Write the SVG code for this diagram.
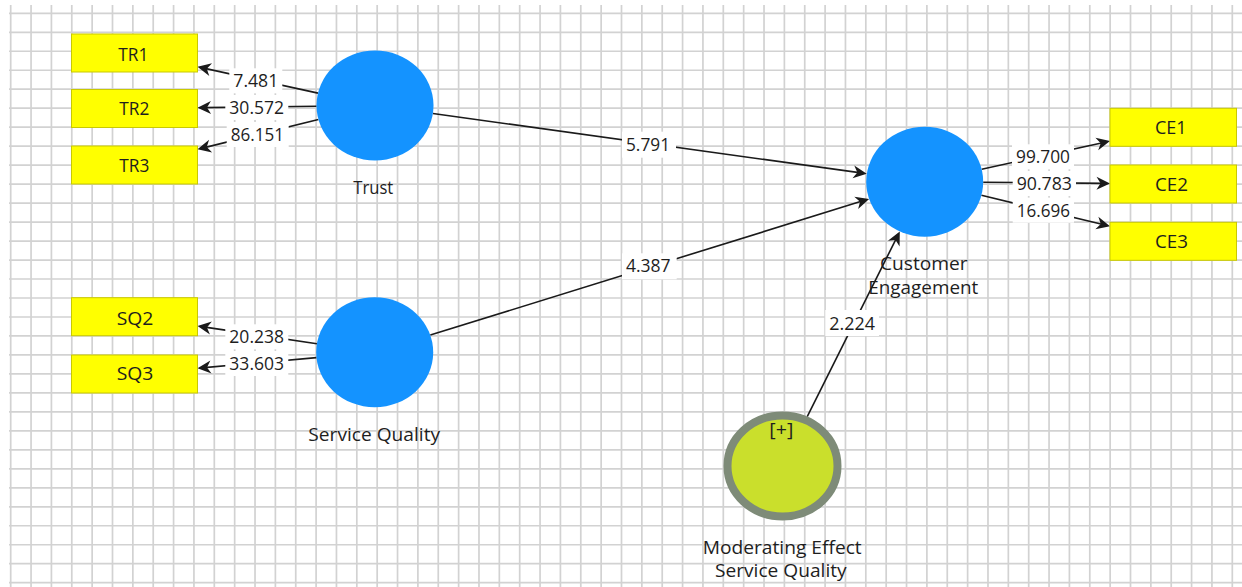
<svg xmlns="http://www.w3.org/2000/svg" width="1242" height="587" viewBox="0 0 1242 587">
<style>
.grid{fill:none;stroke:#d2d2d2;stroke-width:1.7}
.edge{fill:none;stroke:#1a1a1a;stroke-width:1.6;marker-end:url(#arr)}
.lbg{fill:#ffffff}
.t{font-family:"Open Sans","Noto Sans","DejaVu Sans",sans-serif;font-size:19px;fill:#1e1e1e;text-anchor:middle}
.s{font-size:17.5px}
.box{fill:#ffff00;stroke:#c9c900;stroke-width:1}
.lv{fill:#1493ff}
.mod{fill:#cadf2c;stroke:#7e8b78;stroke-width:8}
</style>
<defs>
<marker id="arr" viewBox="-17 -8 18 16" refX="-4" refY="0" markerWidth="18" markerHeight="16" markerUnits="userSpaceOnUse" orient="auto">
<path d="M0,0 L-13.5,-6.5 L-9.5,0 L-13.5,6.5 Z" fill="#1a1a1a"/>
</marker>
</defs>
<rect width="1242" height="587" fill="#ffffff"/>
<g id="grid">
<path class="grid" d="M10.7 5V587M31.06 5V587M51.42 5V587M71.78 5V587M92.14 5V587M112.5 5V587M132.86 5V587M153.22 5V587M173.58 5V587M193.94 5V587M214.3 5V587M234.66 5V587M255.02 5V587M275.38 5V587M295.74 5V587M316.1 5V587M336.46 5V587M356.82 5V587M377.18 5V587M397.54 5V587M417.9 5V587M438.26 5V587M458.62 5V587M478.98 5V587M499.34 5V587M519.7 5V587M540.06 5V587M560.42 5V587M580.78 5V587M601.14 5V587M621.5 5V587M641.86 5V587M662.22 5V587M682.58 5V587M702.94 5V587M723.3 5V587M743.66 5V587M764.02 5V587M784.38 5V587M804.74 5V587M825.1 5V587M845.46 5V587M865.82 5V587M886.18 5V587M906.54 5V587M926.9 5V587M947.26 5V587M967.62 5V587M987.98 5V587M1008.34 5V587M1028.7 5V587M1049.06 5V587M1069.42 5V587M1089.78 5V587M1110.14 5V587M1130.5 5V587M1150.86 5V587M1171.22 5V587M1191.58 5V587M1211.94 5V587M1232.3 5V587"/>
<path class="grid" d="M9 13.3H1242M9 32.28H1242M9 51.26H1242M9 70.24H1242M9 89.22H1242M9 108.2H1242M9 127.18H1242M9 146.16H1242M9 165.14H1242M9 184.12H1242M9 203.1H1242M9 222.08H1242M9 241.06H1242M9 260.04H1242M9 279.02H1242M9 298H1242M9 316.98H1242M9 335.96H1242M9 354.94H1242M9 373.92H1242M9 392.9H1242M9 411.88H1242M9 430.86H1242M9 449.84H1242M9 468.82H1242M9 487.8H1242M9 506.78H1242M9 525.76H1242M9 544.74H1242M9 563.72H1242M9 582.7H1242"/>
</g>
<g id="connectors">
<line class="edge" x1="318" y1="93.1" x2="201.4" y2="67.65"/>
<line class="edge" x1="316.5" y1="106.2" x2="201.5" y2="107.65"/>
<line class="edge" x1="318.4" y1="119.5" x2="201.4" y2="148.4"/>
<line class="edge" x1="316.9" y1="343.7" x2="201.5" y2="326.6"/>
<line class="edge" x1="316.5" y1="357.6" x2="201.5" y2="367.9"/>
<line class="edge" x1="981.7" y1="169.2" x2="1106.1" y2="141.96"/>
<line class="edge" x1="983.2" y1="182.2" x2="1106" y2="183.36"/>
<line class="edge" x1="981.4" y1="195.3" x2="1106.1" y2="225.2"/>
<line class="edge" x1="432.9" y1="113.5" x2="862.8" y2="173.15"/>
<line class="edge" x1="430.3" y1="335.1" x2="865.3" y2="200.1"/>
<line class="edge" x1="807.2" y1="416.6" x2="898" y2="235.1"/>
<g id="edge-labels">
<rect class="lbg" x="229.3" y="68.3" width="53" height="25"/>
<text class="t" x="255.8" y="87.3" textLength="45" lengthAdjust="spacingAndGlyphs">7.481</text>
<rect class="lbg" x="225.3" y="95" width="63" height="25"/>
<text class="t" x="256.7" y="114" textLength="54.7" lengthAdjust="spacingAndGlyphs">30.572</text>
<rect class="lbg" x="226.7" y="122" width="62" height="25"/>
<text class="t" x="257.3" y="141" textLength="53.3" lengthAdjust="spacingAndGlyphs">86.151</text>
<rect class="lbg" x="225.3" y="324.3" width="63" height="25"/>
<text class="t" x="256.7" y="343.3" textLength="54.7" lengthAdjust="spacingAndGlyphs">20.238</text>
<rect class="lbg" x="225.3" y="351" width="63" height="25"/>
<text class="t" x="256.7" y="370" textLength="54.7" lengthAdjust="spacingAndGlyphs">33.603</text>
<rect class="lbg" x="1012" y="144.3" width="62" height="25"/>
<text class="t" x="1043" y="163.3" textLength="54" lengthAdjust="spacingAndGlyphs">99.700</text>
<rect class="lbg" x="1012.7" y="171" width="63.3" height="25"/>
<text class="t" x="1044.3" y="190" textLength="55.3" lengthAdjust="spacingAndGlyphs">90.783</text>
<rect class="lbg" x="1012.7" y="197.7" width="61.3" height="25"/>
<text class="t" x="1043.3" y="216.7" textLength="53.3" lengthAdjust="spacingAndGlyphs">16.696</text>
<rect class="lbg" x="622" y="131.7" width="54" height="26"/>
<text class="t" x="648" y="150.7" textLength="44" lengthAdjust="spacingAndGlyphs">5.791</text>
<rect class="lbg" x="622" y="253.3" width="54.7" height="26"/>
<text class="t" x="648.3" y="272.3" textLength="44.7" lengthAdjust="spacingAndGlyphs">4.387</text>
<rect class="lbg" x="825.3" y="310" width="53.7" height="26"/>
<text class="t" x="852.2" y="330" textLength="45.7" lengthAdjust="spacingAndGlyphs">2.224</text>
</g>
</g>
<g id="TR1"><rect class="box" x="71.5" y="34" width="126" height="38"/><text class="t" x="133.3" y="60.7" textLength="30" lengthAdjust="spacingAndGlyphs">TR1</text></g>
<g id="TR2"><rect class="box" x="71.5" y="89.5" width="126" height="38"/><text class="t" x="134.3" y="115" textLength="30" lengthAdjust="spacingAndGlyphs">TR2</text></g>
<g id="TR3"><rect class="box" x="71.5" y="146" width="126" height="38"/><text class="t" x="134.3" y="171.7" textLength="30" lengthAdjust="spacingAndGlyphs">TR3</text></g>
<g id="SQ2"><rect class="box" x="71.5" y="297.7" width="126" height="38"/><text class="t" x="135" y="325" textLength="36.7" lengthAdjust="spacingAndGlyphs">SQ2</text></g>
<g id="SQ3"><rect class="box" x="71.5" y="355" width="126" height="38"/><text class="t" x="135" y="380" textLength="36.7" lengthAdjust="spacingAndGlyphs">SQ3</text></g>
<g id="CE1"><rect class="box" x="1110" y="108.3" width="126.5" height="38"/><text class="t" x="1170.8" y="134.3" textLength="31.7" lengthAdjust="spacingAndGlyphs">CE1</text></g>
<g id="CE2"><rect class="box" x="1110" y="165" width="126.5" height="38"/><text class="t" x="1171.5" y="191" textLength="33" lengthAdjust="spacingAndGlyphs">CE2</text></g>
<g id="CE3"><rect class="box" x="1110" y="222.3" width="126.5" height="38"/><text class="t" x="1171.5" y="247.7" textLength="33" lengthAdjust="spacingAndGlyphs">CE3</text></g>
<g id="Trust"><ellipse class="lv" cx="375" cy="105.5" rx="58.5" ry="55"/><text class="t" x="373.3" y="194" textLength="40" lengthAdjust="spacingAndGlyphs">Trust</text></g>
<g id="ServiceQuality"><ellipse class="lv" cx="374.7" cy="352.3" rx="58.5" ry="55"/><text class="t" x="374.2" y="440.7" textLength="131.7" lengthAdjust="spacingAndGlyphs">Service Quality</text></g>
<g id="CustomerEngagement"><ellipse class="lv" cx="924.7" cy="181.7" rx="58.5" ry="55"/><text class="t s" x="923.8" y="270" textLength="87.7" lengthAdjust="spacingAndGlyphs">Customer</text><text class="t s" x="923.3" y="294" textLength="110" lengthAdjust="spacingAndGlyphs">Engagement</text></g>
<g id="ModeratingEffect"><ellipse class="mod" cx="782.5" cy="466" rx="55" ry="50.5"/><text class="t" x="781.3" y="436" textLength="24" lengthAdjust="spacingAndGlyphs">[+]</text><text class="t s" x="782.2" y="554" textLength="159" lengthAdjust="spacingAndGlyphs">Moderating Effect</text><text class="t s" x="780.8" y="577.3" textLength="131.7" lengthAdjust="spacingAndGlyphs">Service Quality</text></g>
</svg>
